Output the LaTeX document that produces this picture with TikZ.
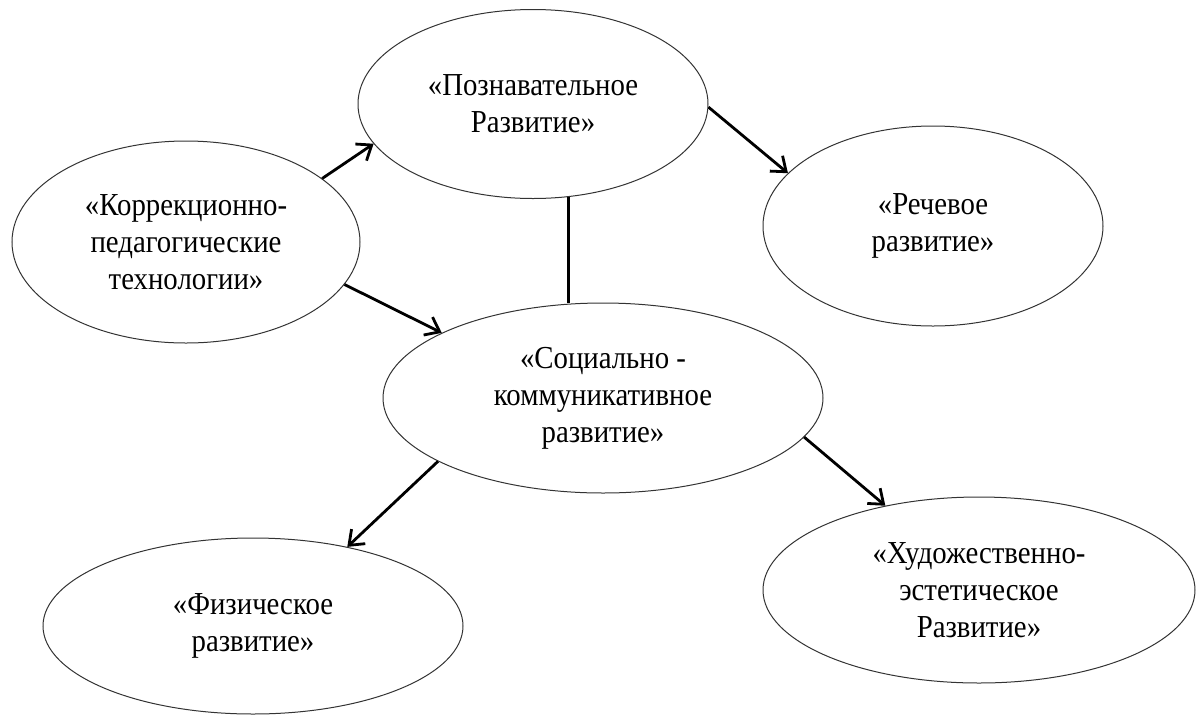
\documentclass[tikz,border=0pt]{standalone}
\usepackage{fontspec}
\setmainfont{Liberation Serif}[FakeStretch=0.9]
\usetikzlibrary{shapes.geometric,arrows.meta}
\begin{document}
\begin{tikzpicture}[x=1pt,y=-1pt,
  oval/.style={ellipse,draw=black!80,line width=1pt,inner sep=0pt,align=center,
    font=\fontsize{32}{37}\selectfont},
  link/.style={line width=2.8pt,-{Straight Barb[length=13pt,width=20pt,line width=2.8pt]}},
  plain/.style={line width=2.8pt}]
\useasboundingbox (0,0) rectangle (1203,716);
\node[oval,minimum width=350pt,minimum height=189pt] (poz) at (533,104) {«Познавательное\\Развитие»};
\node[oval,minimum width=348pt,minimum height=202pt] (korr) at (186,242) {«Коррекционно-\\педагогические\\технологии»};
\node[oval,minimum width=340pt,minimum height=200pt] (rech) at (933,226) {«Речевое\\развитие»};
\node[oval,minimum width=440pt,minimum height=190pt] (soc) at (603,398) {«Социально -\\коммуникативное\\развитие»};
\node[oval,minimum width=420pt,minimum height=176pt] (fiz) at (253,626) {«Физическое\\развитие»};
\node[oval,minimum width=432pt,minimum height=186pt] (hud) at (979,590) {«Художественно-\\эстетическое\\Развитие»};
\draw[link] (korr.25) -- (poz.194);
\draw[link] (korr.-15) -- (soc.158);
\draw[plain] (poz.-69.6) -- (poz.-69.6 |- soc.north);
\draw[link] (poz.-1) -- (rech.160);
\draw[link] (soc.201) -- (fiz.40);
\draw[link] (soc.-11.6) -- (hud.138.6);
\end{tikzpicture}
\end{document}
